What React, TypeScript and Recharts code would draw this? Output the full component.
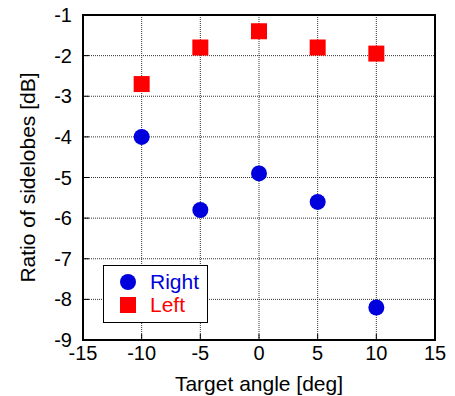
import React from 'react';
import {
  ScatterChart,
  Scatter,
  XAxis,
  YAxis,
  CartesianGrid,
  ReferenceArea,
  Legend,
} from 'recharts';

// sidelobe ratio vs target angle
const angles = [-10, -5, 0, 5, 10];
const rightValues = [-4.0, -5.8, -4.9, -5.6, -8.2];
const leftValues = [-2.7, -1.8, -1.4, -1.8, -1.95];
const xTicks = [-15, -10, -5, 0, 5, 10, 15];
const yTicks = [-9, -8, -7, -6, -5, -4, -3, -2, -1];

const rightData = angles.map((a, i) => ({ x: a, y: rightValues[i] }));
const leftData = angles.map((a, i) => ({ x: a, y: leftValues[i] }));

const FONT = 'Liberation Sans, Arial, sans-serif';
const tickStyle = { fontSize: 20, fill: '#000', fontFamily: FONT };

const Dot = (props: any) => <circle cx={props.cx} cy={props.cy} r={8} fill="#0000dd" />;
const Square = (props: any) => (
  <rect x={props.cx - 8} y={props.cy - 8} width={16} height={16} fill="#ff0000" />
);
const NoLabel = () => <g />;

const YTitle = ({ viewBox }: any) => {
  const cx = viewBox.x + 27;
  const cy = viewBox.y + viewBox.height / 2;
  return (
    <text
      x={cx}
      y={cy}
      transform={`rotate(-90 ${cx} ${cy})`}
      textAnchor="middle"
      dominantBaseline="central"
      fontSize={21}
      fontFamily={FONT}
      fill="#000"
    >
      Ratio of sidelobes [dB]
    </text>
  );
};

const XTitle = ({ viewBox }: any) => (
  <text
    x={viewBox.x + viewBox.width / 2}
    y={viewBox.y + 43}
    textAnchor="middle"
    dominantBaseline="central"
    fontSize={21}
    fontFamily={FONT}
    fill="#000"
  >
    Target angle [deg]
  </text>
);

const LegendBox = () => (
  <div
    style={{
      width: 105,
      height: 58,
      border: '1px solid #000',
      background: '#fff',
      fontFamily: FONT,
      fontSize: 21,
      boxSizing: 'border-box',
      padding: '4px 0 0 16px',
      lineHeight: '23px',
    }}
  >
    <div style={{ color: '#0000dd', display: 'flex', alignItems: 'center' }}>
      <span style={{ width: 16, height: 16, borderRadius: 8, background: '#0000dd', marginRight: 14 }} />
      Right
    </div>
    <div style={{ color: '#ff0000', display: 'flex', alignItems: 'center' }}>
      <span style={{ width: 16, height: 16, background: '#ff0000', marginRight: 14 }} />
      Left
    </div>
  </div>
);

export default function App() {
  return (
    <div style={{ position: 'absolute', left: 0, top: 0, background: '#fff' }}>
      <ScatterChart
        width={455}
        height={396}
        margin={{ top: 15, right: 20, bottom: 0, left: 0 }}
      >
        <CartesianGrid stroke="#333" strokeDasharray="1 1" strokeWidth={1} />
        <XAxis
          type="number"
          dataKey="x"
          domain={[-15, 15]}
          ticks={xTicks}
          height={56}
          axisLine={false}
          tickLine={{ stroke: '#000' }}
          tickSize={-6}
          tickMargin={12}
          tick={tickStyle}
          label={XTitle}
        />
        <XAxis
          xAxisId="top"
          orientation="top"
          type="number"
          domain={[-15, 15]}
          ticks={xTicks}
          height={0}
          axisLine={false}
          tickLine={{ stroke: '#000' }}
          tickSize={-6}
          tick={NoLabel}
        />
        <YAxis
          type="number"
          dataKey="y"
          domain={[-9, -1]}
          ticks={yTicks}
          width={83}
          axisLine={false}
          tickLine={{ stroke: '#000' }}
          tickSize={-6}
          tickMargin={17}
          tick={tickStyle}
          label={YTitle}
        />
        <YAxis
          yAxisId="right"
          orientation="right"
          type="number"
          domain={[-9, -1]}
          ticks={yTicks}
          width={0}
          axisLine={false}
          tickLine={{ stroke: '#000' }}
          tickSize={-6}
          tick={NoLabel}
        />
        <ReferenceArea
          x1={-15}
          x2={15}
          y1={-9}
          y2={-1}
          fill="none"
          fillOpacity={0}
          stroke="#000"
          strokeWidth={2}
        />
        <Scatter name="Right" data={rightData} shape={Dot} isAnimationActive={false} />
        <Scatter name="Left" data={leftData} shape={Square} isAnimationActive={false} />
        <Legend
          layout="vertical"
          align="center"
          verticalAlign="middle"
          content={LegendBox}
          wrapperStyle={{ left: 103, top: 265, width: 105, height: 58 }}
        />
      </ScatterChart>
    </div>
  );
}
